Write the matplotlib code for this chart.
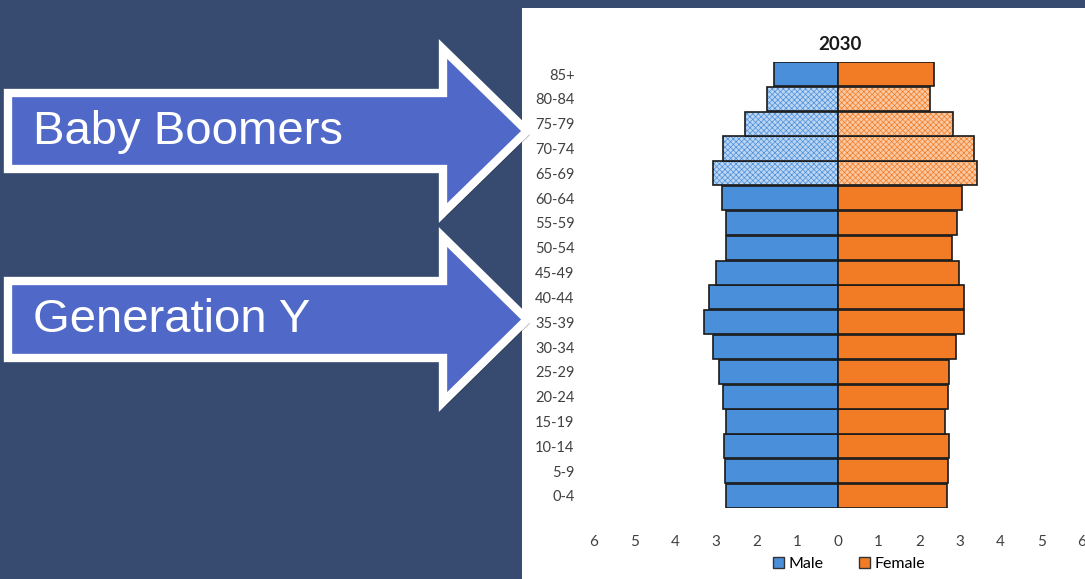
import numpy as np
import matplotlib.pyplot as plt
from matplotlib.patches import Polygon, Rectangle, Patch

ages = ['0-4', '5-9', '10-14', '15-19', '20-24', '25-29', '30-34', '35-39', '40-44',
        '45-49', '50-54', '55-59', '60-64', '65-69', '70-74', '75-79', '80-84', '85+']
male = [2.75, 2.78, 2.80, 2.75, 2.83, 2.92, 3.07, 3.30, 3.17,
        3.00, 2.75, 2.75, 2.85, 3.08, 2.83, 2.28, 1.75, 1.57]
female = [2.68, 2.70, 2.73, 2.63, 2.70, 2.73, 2.90, 3.10, 3.10,
          2.97, 2.80, 2.92, 3.05, 3.42, 3.34, 2.83, 2.27, 2.37]
boomers = ['65-69', '70-74', '75-79', '80-84']
xticks = [-6, -5, -4, -3, -2, -1, 0, 1, 2, 3, 4, 5, 6]

W, H = 1085, 579
bg = '#374B70'
blue, orange = '#4A8FDA', '#F27C26'
blue_lt, orange_lt = '#BCD5F2', '#FAC9A3'
arrow_fill = '#5068C8'

plt.rcParams['hatch.linewidth'] = 0.5

fig = plt.figure(figsize=(W / 100, H / 100), dpi=100, facecolor=bg)

# slide layer in pixel coordinates
back = fig.add_axes([0, 0, 1, 1], zorder=0)
back.set_xlim(0, W)
back.set_ylim(H, 0)
back.axis('off')
back.add_patch(Rectangle((522, 8), W - 522, H - 8, facecolor='white', edgecolor='none'))


def arrow(y_top, y_bot, head_top, head_bot, label):
    mid = (y_top + y_bot) / 2
    pts = [(8, y_top), (443, y_top), (443, head_top), (527, mid),
           (443, head_bot), (443, y_bot), (8, y_bot)]
    shadow = [(x + 3, y + 4) for x, y in pts]
    back.add_patch(Polygon(shadow, closed=True, facecolor='black', alpha=0.3,
                           edgecolor='none'))
    back.add_patch(Polygon(pts, closed=True, facecolor=arrow_fill, edgecolor='white',
                           linewidth=6, joinstyle='miter'))
    back.text(33, mid + 1, label, color='white', fontsize=34, va='center', ha='left',
              family='Liberation Sans')


arrow(93, 169, 49, 213, 'Baby Boomers')
arrow(281, 358, 237, 402, 'Generation Y')

# population pyramid
ax = fig.add_axes([594 / W, 1 - 508.4 / H, 488 / W, 446.8 / H], zorder=1)
ax.set_facecolor('none')
y = np.arange(len(ages))
for i, age in enumerate(ages):
    hatched = age in boomers
    for val, solid, light in ((-male[i], blue, blue_lt), (female[i], orange, orange_lt)):
        if hatched:
            ax.barh(y[i], val, height=0.97, facecolor=light, edgecolor=solid,
                    hatch='xxxxxx', linewidth=0)
            ax.barh(y[i], val, height=0.97, facecolor='none', edgecolor='#1a1a1a',
                    linewidth=1.2)
        else:
            ax.barh(y[i], val, height=0.97, facecolor=solid, edgecolor='#1a1a1a',
                    linewidth=1.2)

ax.set_xlim(-6, 6)
ax.set_ylim(-0.5, len(ages) - 0.5)
ax.set_yticks(y)
ax.set_yticklabels(ages, fontsize=10.5, color='#404040', family='Lato')
ax.set_xticks(xticks)
ax.set_xticklabels([str(abs(t)) for t in xticks], fontsize=11, color='#404040',
                   family='Lato')
ax.tick_params(axis='y', length=0, pad=14)
ax.tick_params(axis='x', length=0, pad=19)
for s in ax.spines.values():
    s.set_visible(False)

fig.text(840 / W, 1 - 44 / H, '2030', ha='center', va='center', fontsize=13.5,
         fontweight='bold', family='Lato', color='#1a1a1a')

handles = [Patch(facecolor=blue, edgecolor='#333333', label='Male'),
           Patch(facecolor=orange, edgecolor='#333333', label='Female')]
fig.legend(handles=handles, loc='center', bbox_to_anchor=(849 / W, 1 - 564 / H),
           ncol=2, frameon=False, handlelength=0.7, handleheight=0.7,
           handletextpad=0.3, columnspacing=2.2,
           prop={'family': 'Lato', 'size': 11.5})

fig.savefig('out.png', dpi=100, facecolor=bg)
